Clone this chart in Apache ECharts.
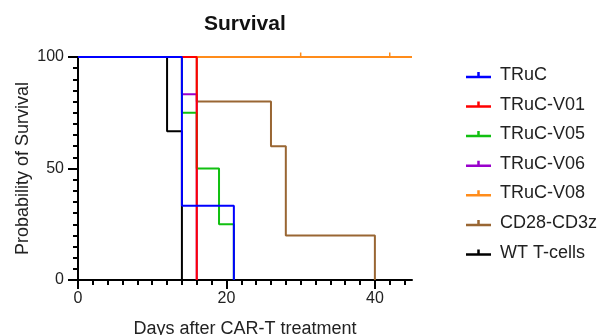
<!DOCTYPE html>
<html>
<head>
<meta charset="utf-8">
<script src="https://cdn.jsdelivr.net/npm/echarts@6/dist/echarts.min.js"></script>
<style>
  html, body { margin: 0; padding: 0; background: #fff; }
  #chart { width: 608px; height: 335px; }
</style>
</head>
<body>
<div id="chart"></div>
<script>
// Kaplan-Meier steps: [day, % surviving]
var truc = [[0, 100], [14, 33.3], [21, 0]]
var trucV01 = [[0, 100], [16, 0]]
var trucV05 = [[0, 100], [14, 75], [16, 50], [19, 25], [21, 0]]
var trucV06 = [[0, 100], [14, 83.3], [16, 0]]
var trucV08 = [[0, 100], [45, 100]]
var cd28 = [[0, 100], [16, 80], [26, 60], [28, 20], [40, 0]]
var wtCells = [[0, 100], [12, 66.7], [14, 0]]
// censored observations on TRuC-V08
var v08Censored = [30, 42]

var xMajor = [0, 20, 40]
var xMinor = []
for (var d = 0; d <= 44; d += 2) xMinor.push(d)

var font = 'Liberation Sans, Arial, sans-serif'
var legendIcon = 'path://M0,4h20v2h-20z M9,1h2v3h-2z'

function km(name, color, data, z) {
  return {
    name: name,
    type: 'line',
    step: 'end',
    data: data,
    symbol: 'none',
    z: z,
    lineStyle: { color: color, width: 2 },
    itemStyle: { color: color },
    emphasis: { disabled: true }
  }
}

var chart = echarts.init(document.getElementById('chart'))

var v08 = km('TRuC-V08', '#ff8c1a', trucV08, 5)
v08.markPoint = {
  symbol: 'rect',
  symbolSize: [1.5, 5],
  symbolOffset: [0, -2],
  silent: true,
  label: { show: false },
  itemStyle: { color: '#ff8c1a' },
  data: v08Censored.map(function (t) { return { coord: [t, 100] } })
}

chart.setOption({
  animation: false,
  title: {
    text: 'Survival',
    left: 199,
    top: 9,
    textStyle: { fontFamily: font, fontSize: 21, fontWeight: 'bold', color: '#111' }
  },
  legend: {
    orient: 'vertical',
    left: 461,
    top: 61,
    itemWidth: 25,
    itemHeight: 8,
    itemGap: 11.6,
    textStyle: { fontFamily: font, fontSize: 18, color: '#222', padding: [0, 0, 0, 4] },
    data: ['TRuC', 'TRuC-V01', 'TRuC-V05', 'TRuC-V06', 'TRuC-V08', 'CD28-CD3z', 'WT T-cells']
      .map(function (n) { return { name: n, icon: legendIcon } })
  },
  grid: { left: 78, right: 196, top: 57, bottom: 55, containLabel: false, outerBoundsMode: 'none' },
  xAxis: [
    {
      type: 'value',
      min: 0,
      max: 45,
      name: 'Days after CAR-T treatment',
      nameLocation: 'middle',
      nameGap: 40,
      nameMoveOverlap: false,
      nameTextStyle: { fontFamily: font, fontSize: 18, color: '#222' },
      axisLine: { show: true, onZero: false, lineStyle: { color: '#000', width: 2 } },
      axisTick: { show: true, inside: false, customValues: xMajor, length: 9, lineStyle: { color: '#000', width: 2 } },
      axisLabel: { show: true, customValues: xMajor, fontFamily: font, fontSize: 16, color: '#222', margin: 11 },
      splitLine: { show: false }
    },
    {
      type: 'value',
      min: 0,
      max: 45,
      position: 'bottom',
      axisLine: { show: false, onZero: false },
      axisTick: { show: true, inside: false, customValues: xMinor, length: 5, lineStyle: { color: '#000', width: 2 } },
      axisLabel: { show: false },
      splitLine: { show: false }
    }
  ],
  yAxis: {
    type: 'value',
    min: 0,
    max: 100,
    interval: 50,
    name: 'Probability of Survival',
    nameLocation: 'middle',
    nameGap: 46,
    nameMoveOverlap: false,
    nameTextStyle: { fontFamily: font, fontSize: 18, color: '#222' },
    axisLine: { show: true, onZero: false, lineStyle: { color: '#000', width: 2 } },
    axisTick: { show: true, inside: false, length: 10, lineStyle: { color: '#000', width: 2 } },
    minorTick: { show: true, splitNumber: 10, length: 5, lineStyle: { color: '#000', width: 2 } },
    axisLabel: { fontFamily: font, fontSize: 16, color: '#222', margin: 14 },
    splitLine: { show: false }
  },
  series: [
    km('WT T-cells', '#000000', wtCells, 1),
    km('CD28-CD3z', '#996633', cd28, 2),
    v08,
    km('TRuC-V06', '#9900cc', trucV06, 3),
    km('TRuC-V05', '#11c011', trucV05, 4),
    km('TRuC-V01', '#ff0000', trucV01, 6),
    km('TRuC', '#0000ff', truc, 7)
  ]
})
</script>
</body>
</html>
